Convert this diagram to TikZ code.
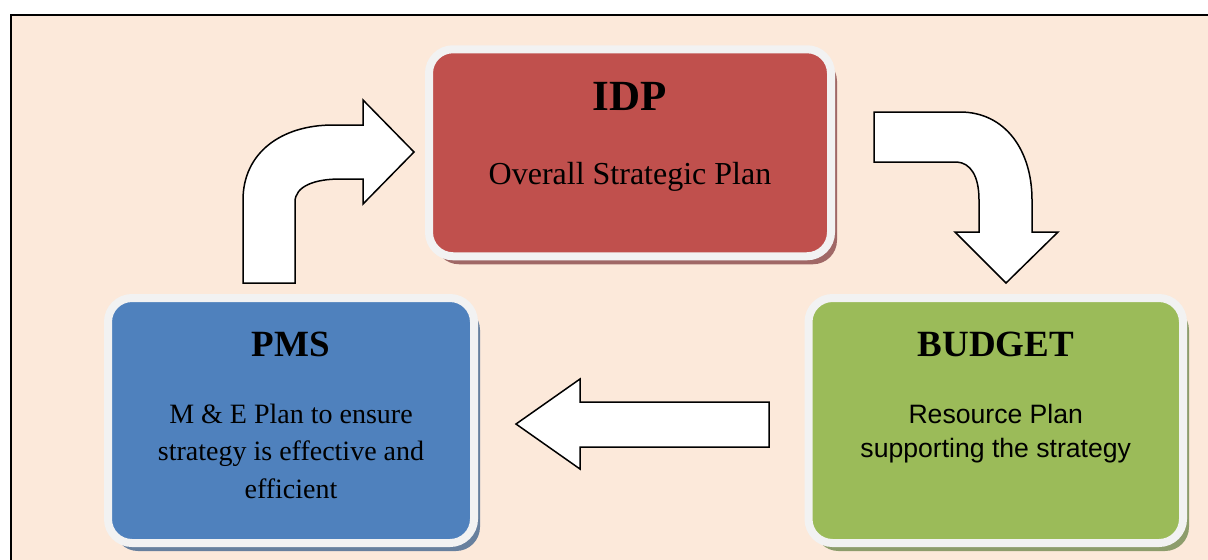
\documentclass[tikz,border=0pt]{standalone}
\usepackage{fontspec}
\setmainfont{Liberation Serif}
\setsansfont{Liberation Sans}
\usepackage{tikz}
\usetikzlibrary{shadows}
\definecolor{bgpeach}{HTML}{FCE9DA}
\definecolor{idpred}{HTML}{C0504D}
\definecolor{pmsblue}{HTML}{4F81BD}
\definecolor{budgetgreen}{HTML}{9BBB59}
\definecolor{rimwhite}{HTML}{F2F2F2}

\begin{document}
\begin{tikzpicture}[x=0.5pt, y=-0.5pt,
    box/.style args={#1/#2/#3}{draw=rimwhite, line width=4pt, rounded corners=12pt,
        fill=#1, minimum width=#2, minimum height=#3, inner sep=0, outer sep=0,
        drop shadow={shadow xshift=3pt, shadow yshift=-4pt, fill=#1!50!gray, opacity=1}},
    boxtitle/.style={font=\bfseries\fontsize{#1}{#1}\selectfont, inner sep=0, anchor=base},
    boxtext/.style={align=center, inner sep=0, anchor=base},
    blockarrow/.style={draw=black, fill=white, line width=0.75pt, line join=miter}
  ]
     \useasboundingbox (0,0) rectangle (1208,559);
     \begin{scope}
       \clip (0,0) rectangle (1208,559);
       \fill[white] (0,0) rectangle (1208,559);
       \draw[fill=bgpeach, line width=0.75pt] (11,15) rectangle (1230,580);
     \end{scope}

     \draw[blockarrow] (243,283) -- (243,200) .. controls (243,153) and (281,125) .. (333,125) -- (363,125) -- (363,100)
        -- (414,152) -- (363,204) -- (363,179) -- (340,179) .. controls (315,179) and (295,186) .. (295,202) -- (295,283) -- cycle;
     \draw[blockarrow] (874,112) -- (960,112) .. controls (1005,112) and (1032,150) .. (1032,200) -- (1032,232) -- (1058,232)
        -- (1006,283) -- (955,232) -- (979,232) -- (979,200) .. controls (979,175) and (970,163) .. (957,162) -- (874,162) -- cycle;
     \draw[blockarrow] (769,402) -- (580,402) -- (580,379) -- (516,424) -- (580,469) -- (580,447) -- (769,447) -- cycle;

     \node[box=idpred/201pt/103.5pt] (idp) at (630,152.75) {};
     \node[box=pmsblue/183pt/122.5pt] (pms) at (291,420.5) {};
     \node[box=budgetgreen/187.25pt/122.5pt] (budget) at (995.75,420.5) {};

     \node[boxtitle=21.5] (idptitle) at ([yshift=-30.5pt]idp.north) {IDP};
     \node[boxtext, font=\fontsize{16}{19}\selectfont] (idpplan) at ([yshift=-67.5pt]idp.north) {Overall Strategic Plan};
     \node[boxtitle=18.5] (pmstitle) at ([yshift=-29pt]pms.north) {PMS};
     \node[boxtext, font=\fontsize{14}{18.75}\selectfont] (pmsplan) at ([yshift=-100pt]pms.north)
        {M \& E Plan to ensure\\strategy is effective and\\efficient};
     \node[boxtitle=18.5] (budgettitle) at ([yshift=-29pt]budget.north) {BUDGET};
     \node[boxtext, font=\sffamily\fontsize{13.3}{17}\selectfont] (budgetplan) at ([yshift=-79.5pt]budget.north)
        {Resource Plan\\supporting the strategy};
  \end{tikzpicture}
\end{document}
